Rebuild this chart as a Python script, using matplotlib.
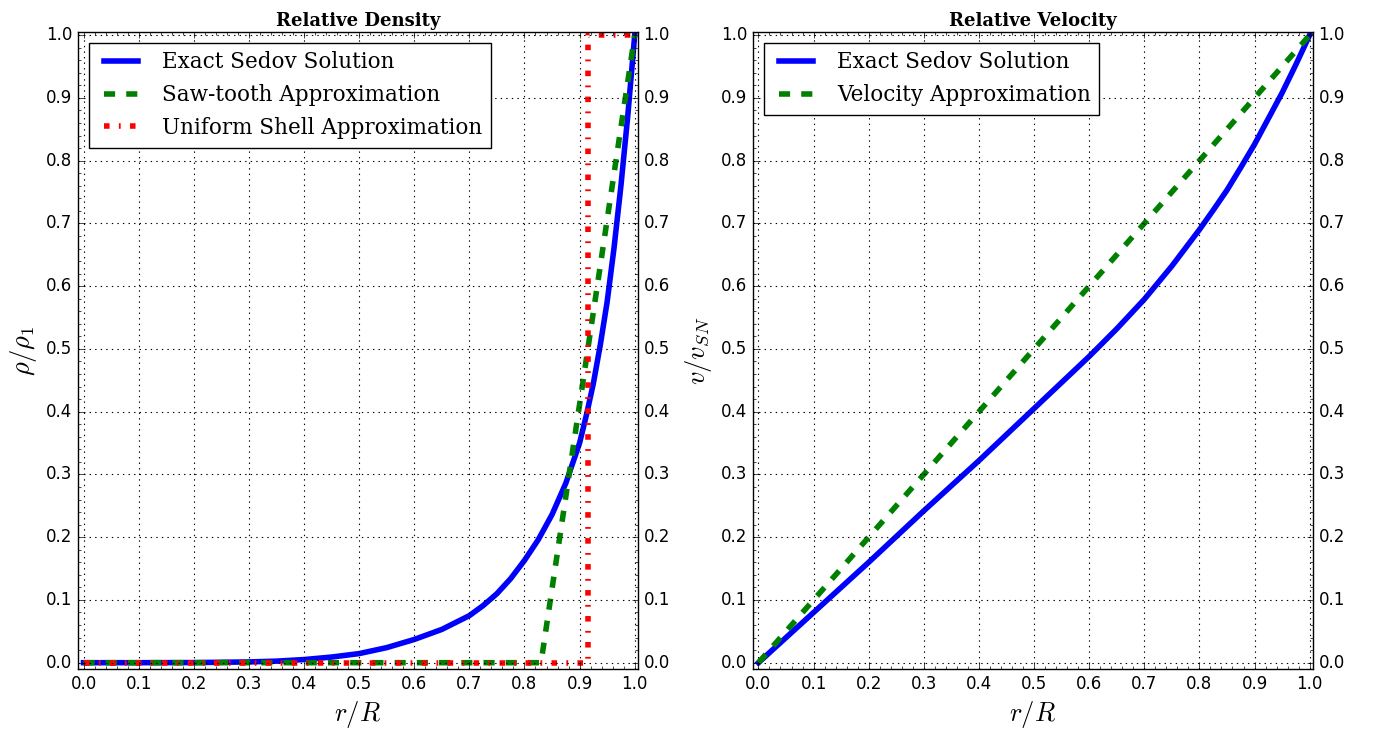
import matplotlib
matplotlib.use("Agg")
import matplotlib.pyplot as plt
from matplotlib.ticker import AutoMinorLocator

plt.style.use("classic")

# ---- data ----
r_sedov = [0.0, 0.1, 0.2, 0.3, 0.35, 0.4, 0.45, 0.5, 0.55, 0.6, 0.65, 0.7, 0.725, 0.75,
           0.775, 0.8, 0.825, 0.85, 0.875, 0.9, 0.9125, 0.925, 0.9375, 0.95, 0.9625,
           0.975, 0.9875, 1.0]
rho_sedov = [0.0, 0.0, 0.0002, 0.0012, 0.0025, 0.005, 0.009, 0.0145, 0.024, 0.037, 0.053,
             0.075, 0.091, 0.110, 0.134, 0.163, 0.196, 0.236, 0.286, 0.350, 0.395, 0.445,
             0.506, 0.575, 0.661, 0.760, 0.872, 1.0]

r_saw = [0.0, 0.83, 1.0]
rho_saw = [0.0, 0.0, 1.0]

r_shell = [0.0, 0.915, 0.915, 1.0]
rho_shell = [0.0, 0.0, 1.0, 1.0]

r_vel = [0.0, 0.1, 0.2, 0.3, 0.4, 0.5, 0.6, 0.65, 0.7, 0.75, 0.8, 0.825, 0.85, 0.875,
         0.9, 0.925, 0.95, 0.975, 1.0]
v_sedov = [0.0, 0.080, 0.160, 0.242, 0.322, 0.405, 0.488, 0.532, 0.579, 0.632, 0.690,
           0.721, 0.753, 0.789, 0.826, 0.867, 0.908, 0.953, 1.0]

r_vapprox = [0.0, 1.0]
v_approx = [0.0, 1.0]

ticks = [0.0, 0.1, 0.2, 0.3, 0.4, 0.5, 0.6, 0.7, 0.8, 0.9, 1.0]
tick_labels = ["0.0", "0.1", "0.2", "0.3", "0.4", "0.5", "0.6", "0.7", "0.8", "0.9", "1.0"]

fig = plt.figure(figsize=(13.78, 7.32), dpi=100)
fig.patch.set_facecolor("white")
ax1 = fig.add_axes([0.0566, 0.0861, 0.4064, 0.8702])
ax2 = fig.add_axes([0.5464, 0.0861, 0.4064, 0.8702])

lw = 4
dash = (8, 8)
dashdot = (4, 6.7, 1.3, 6.7)

ax1.plot(r_sedov, rho_sedov, "b-", lw=lw, label="Exact Sedov Solution")
ax1.plot(r_saw, rho_saw, "g--", lw=lw, dashes=dash, label="Saw-tooth Approximation")
ax1.plot(r_shell, rho_shell, "r-.", lw=lw, dashes=dashdot, label="Uniform Shell Approximation")

ax2.plot(r_vel, v_sedov, "b-", lw=lw, label="Exact Sedov Solution")
ax2.plot(r_vapprox, v_approx, "g--", lw=lw, dashes=dash, label="Velocity Approximation")

for ax, title, ylab in [(ax1, "Relative Density", r"$\rho/\rho_1$"),
                        (ax2, "Relative Velocity", r"$v/v_{SN}$")]:
    ax.set_xlim(-0.01, 1.006)
    ax.set_ylim(-0.01, 1.005)
    ax.set_xticks(ticks)
    ax.set_xticklabels(tick_labels)
    ax.set_yticks(ticks)
    ax.set_yticklabels(tick_labels)
    ax.xaxis.set_minor_locator(AutoMinorLocator(5))
    ax.yaxis.set_minor_locator(AutoMinorLocator(5))
    ax.tick_params(axis="both", which="both", direction="in", top=True, right=True,
                   labelright=True, labelsize=12)
    ax.grid(True, which="major", color="black", linestyle=":", linewidth=0.8)
    ax.set_title(title, fontsize=13, fontweight="bold", family="DejaVu Serif", pad=4)
    ax.set_xlabel(r"$r/R$", fontsize=19)
    ax.set_ylabel(ylab, fontsize=19)
    ax.legend(loc="upper left", prop={"family": "DejaVu Serif", "size": 15.5},
              handlelength=2.2)

fig.savefig("out.png", dpi=100, facecolor="white")
